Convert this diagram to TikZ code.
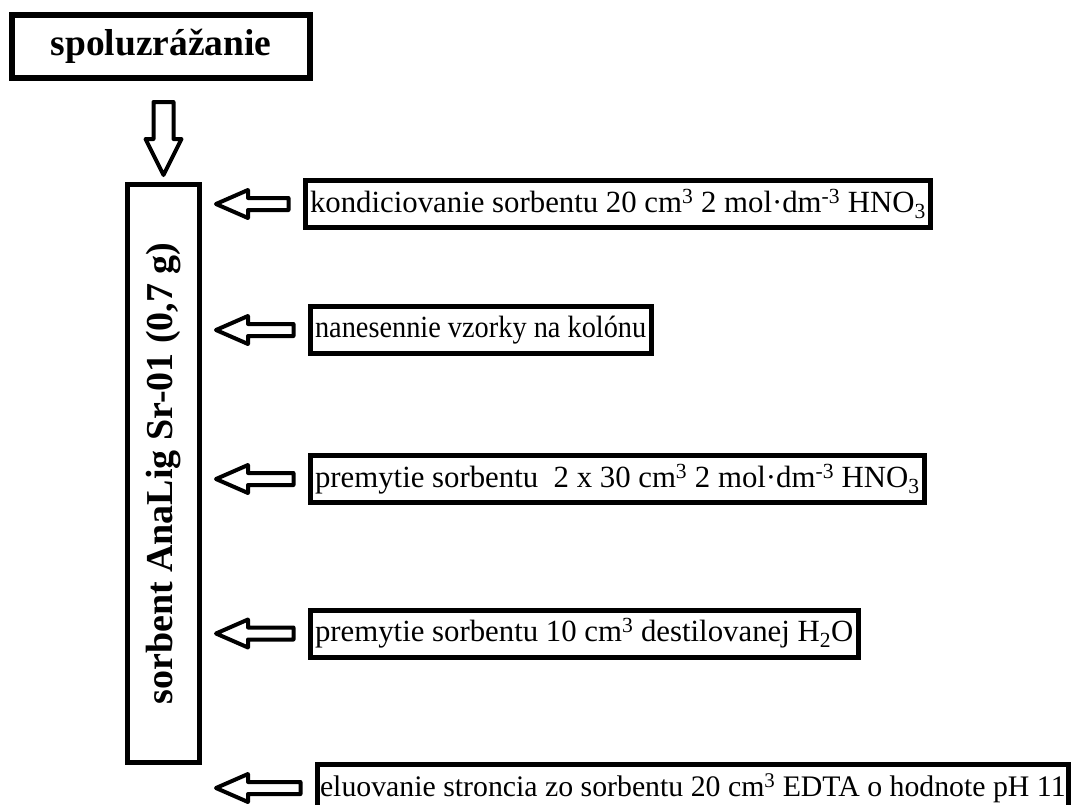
\documentclass[tikz,border=0pt]{standalone}
\usepackage{fontspec}
\usepackage{graphicx}
\setmainfont{Liberation Serif}
\usetikzlibrary{calc}

\tikzset{
  stepbox/.style={draw, line width=5pt, anchor=west, inner xsep=5pt, inner ysep=0pt,
    minimum height=47pt, font=\fontsize{30.8}{32}\selectfont},
  hollow/.style={draw, line width=4pt, line join=round, fill=white}
}

% hollow block arrow from a step box to the column
\newcommand{\leftblock}[2]{%
  \draw[hollow] let \p1=(#1.west), \p2=(#2.east) in
    (\x2+14pt,\y1) -- (\x2+46pt,\y1+14pt) -- (\x2+46pt,\y1+6pt) -- (\x1-14pt,\y1+6pt)
    -- (\x1-14pt,\y1-6pt) -- (\x2+46pt,\y1-6pt) -- (\x2+46pt,\y1-14pt) -- cycle;}
% hollow block arrow pointing down
\newcommand{\downblock}[2]{%
  \draw[hollow] let \p1=(#1.south), \p2=(#2.north) in
    (\x2-10pt,\y1-21pt) -- (\x2+10pt,\y1-21pt) -- (\x2+10pt,\y2+43pt) -- (\x2+18pt,\y2+43pt)
    -- (\x2,\y2+7pt) -- (\x2-18pt,\y2+43pt) -- (\x2-10pt,\y2+43pt) -- cycle;}

\begin{document}
\begin{tikzpicture}
\clip (0,0) rectangle (1086pt,-804pt);

\node [draw, line width=6pt, minimum width=298pt, minimum height=63pt, inner sep=0pt,
  font=\bfseries\fontsize{37.5}{40}\selectfont] (title) at (161pt,-46.5pt) {spoluzrážanie};
\node [draw, line width=5pt, minimum width=72pt, minimum height=578pt, inner sep=0pt]
  (col) at (163.5pt,-473.5pt)
  {\rotatebox{90}{\bfseries\fontsize{38}{40}\selectfont sorbent AnaLig Sr-01 (0,7 g)}};

\node [stepbox] (cond) at (302.5pt,-204pt)
  {kondiciovanie sorbentu 20 cm\textsuperscript{3} 2 mol·dm\textsuperscript{-3} HNO\textsubscript{3}};
\node [stepbox] (load) at (307.5pt,-330pt)
  {\scalebox{0.92}[1]{nanesennie vzorky na kolónu}};
\node [stepbox] (wash) at (307.5pt,-479pt)
  {premytie sorbentu\ \ 2 x 30 cm\textsuperscript{3} 2 mol·dm\textsuperscript{-3} HNO\textsubscript{3}};
\node [stepbox] (water) at (307.5pt,-633.5pt)
  {premytie sorbentu 10 cm\textsuperscript{3} destilovanej H\textsubscript{2}O};
\node [stepbox, inner xsep=3pt, font=\fontsize{29.8}{32}\selectfont] (elute) at (314.5pt,-788pt)
  {eluovanie stroncia zo sorbentu 20 cm\textsuperscript{3} EDTA o hodnote pH 11};

\downblock{title}{col}
\leftblock{cond}{col}
\leftblock{load}{col}
\leftblock{wash}{col}
\leftblock{water}{col}
\leftblock{elute}{col}

\end{tikzpicture}
\end{document}
